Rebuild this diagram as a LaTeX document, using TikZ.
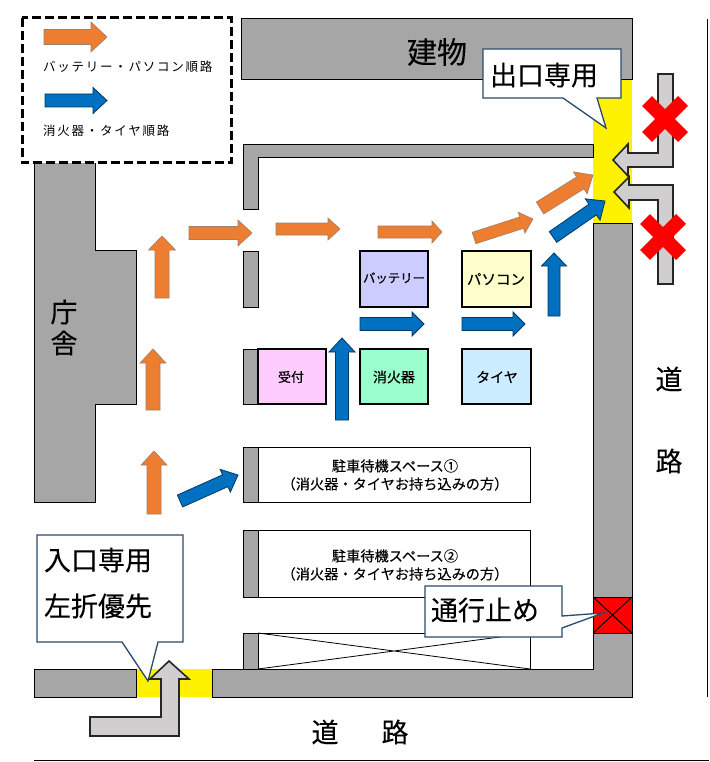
\documentclass[tikz,border=0pt]{standalone}
\usepackage{fontspec}
\setmainfont{Noto Sans CJK JP}
\newfontfamily\jpspaced[LetterSpace=14]{Noto Sans CJK JP}
\newfontfamily\jpmedium[FakeBold=0.4]{Noto Sans CJK JP}
\newfontfamily\jpsemi[FakeBold=0.15]{Noto Sans CJK JP}
\definecolor{wallgray}{HTML}{A6A6A6}
\definecolor{arroworange}{HTML}{ED7D31}
\definecolor{arrowblue}{HTML}{0070C0}
\definecolor{arrowgrey}{HTML}{D0CECE}
\definecolor{calloutblue}{HTML}{2A4A6B}
\definecolor{pinkbox}{HTML}{FFCCFF}
\definecolor{violetbox}{HTML}{CCCCFF}
\definecolor{creambox}{HTML}{FFFFCC}
\definecolor{greenbox}{HTML}{99FFCC}
\definecolor{skybox}{HTML}{CCECFF}
\tikzset{
  x=1pt,y=-1pt,
  wall/.style={fill=wallgray,draw=black,line width=1pt},
  standbox/.style={fill=white,draw=black,line width=1pt},
  itembox/.style={draw=black,line width=1.6pt},
  callout/.style={fill=white,draw=calloutblue,line width=1.3pt,line join=miter},
  orangearrow/.style={fill=arroworange,draw=gray!70!arroworange,line width=.6pt},
  bluearrow/.style={fill=arrowblue,draw=black!50!arrowblue,line width=.8pt},
  greyarrow/.style={fill=arrowgrey,draw=black!85,line width=1.6pt,line join=miter},
  redcross/.style={draw=red,line width=14pt},
  bigtext/.style={font=\fontsize{27}{27}\jpsemi,inner sep=0pt},
  itemtext/.style={font=\fontsize{13}{13}\jpmedium,inner sep=0pt},
  standtext/.style={font=\fontsize{14.2}{18}\jpsemi,inner sep=0pt,align=center},
  legendtext/.style={font=\fontsize{12.5}{12.5}\jpspaced,inner sep=0pt,anchor=west},
}
% \flowarrow{style}{x1}{y1}{x2}{y2}{shaft half}{head half}{head length}
\newcommand{\flowarrow}[8]{%
  \pgfmathsetmacro{\fdx}{#4-#2}\pgfmathsetmacro{\fdy}{#5-#3}%
  \pgfmathsetmacro{\flen}{sqrt(\fdx*\fdx+\fdy*\fdy)}%
  \pgfmathsetmacro{\fux}{\fdx/\flen}\pgfmathsetmacro{\fuy}{\fdy/\flen}%
  \pgfmathsetmacro{\fbx}{#4-#8*\fux}\pgfmathsetmacro{\fby}{#5-#8*\fuy}%
  \draw[#1] ({#2-#6*\fuy},{#3+#6*\fux}) -- ({\fbx-#6*\fuy},{\fby+#6*\fux}) --
    ({\fbx-#7*\fuy},{\fby+#7*\fux}) -- (#4,#5) -- ({\fbx+#7*\fuy},{\fby-#7*\fux}) --
    ({\fbx+#6*\fuy},{\fby-#6*\fux}) -- ({#2+#6*\fuy},{#3-#6*\fux}) -- cycle;%
}
\begin{document}
\begin{tikzpicture}
\useasboundingbox (0,0) rectangle (709,762);
\fill[white] (0,0) rectangle (709,762);
% yellow gates
\fill[yellow] (593,80) rectangle (632,223);
\fill[yellow] (136,669) rectangle (212,697);
% building
\draw[wall] (241,19) -- (632,19) -- (632,80) -- (241,80) -- cycle;
% government office
\draw[wall] (34,163) -- (95,163) -- (95,250) -- (136,250) -- (136,404) -- (95,404) -- (95,502) -- (34,502) -- cycle;
% inner walls
\draw[wall] (243,209) -- (243,145) -- (593,145) -- (593,158) -- (258,158) -- (258,209) -- cycle;
\draw[wall] (243,251) rectangle (258,307);
% item boxes
\draw[wall] (243,349) rectangle (258,404);
\draw[itembox,line width=1.2pt,fill=pinkbox] (258,349) rectangle (326,404);
\draw[itembox,fill=violetbox] (360,251) rectangle (428,307);
\draw[itembox,fill=creambox] (462,251) rectangle (531,307);
\draw[itembox,fill=greenbox] (360,349) rectangle (428,404);
\draw[itembox,fill=skybox] (462,349) rectangle (531,404);
\node[itemtext,font=\fontsize{12.4}{13}\jpmedium] (battery) at (394,278) {バッテリー};
\node[itemtext,font=\fontsize{14.5}{15}\jpmedium] (pc) at (496,279) {パソコン};
\node[itemtext] (reception) at (291,377) {受付};
\node[itemtext,font=\fontsize{14}{14}\jpmedium] (ext) at (394,377) {消火器};
\node[itemtext,font=\fontsize{14}{14}\jpmedium] (tire) at (497,377) {タイヤ};
% standby spaces
\draw[standbox] (243,447) rectangle (530,502);
\draw[wall] (243,447) rectangle (258,502);
\node[standtext] (s1) at (395,475) {駐車待機スペース①\\（消火器・タイヤお持ち込みの方）};
\draw[standbox] (243,530) rectangle (530,597);
\draw[wall] (243,530) rectangle (258,597);
\node[standtext] (s2) at (395,565) {駐車待機スペース②\\（消火器・タイヤお持ち込みの方）};
\draw[standbox] (243,633) rectangle (530,669);
\draw[black,line width=.8pt] (258,633) -- (530,669) (258,669) -- (530,633);
\draw[wall] (243,633) rectangle (258,669);
% road walls
\draw[wall] (34,669) rectangle (136,697);
\draw[wall] (212,669) -- (593,669) -- (593,223) -- (632,223) -- (632,697) -- (212,697) -- cycle;
% closed point
\draw[black,line width=1pt,fill=red] (593,597) rectangle (632,633);
\draw[black,line width=1pt] (593,597) -- (632,633) (593,633) -- (632,597);
% road edges
\draw[black,line width=1pt] (707,19) -- (707,697);
\draw[black,line width=1pt] (34,760) -- (709,760);
% labels
\node[bigtext,font=\fontsize{30}{30}\jpsemi] (bldg) at (437,52) {建物};
\node[bigtext] (c1) at (64,312) {庁};
\node[bigtext] (c2) at (64,343) {舎};
\node[bigtext] (r1) at (325,732) {道};
\node[bigtext] (r2) at (395,732) {路};
\node[bigtext] (r3) at (669,379) {道};
\node[bigtext] (r4) at (669,461) {路};
% legend
\draw[black,line width=3pt,dash pattern=on 9pt off 4pt,fill=white] (22,18) rectangle (231,163);
\flowarrow{orangearrow}{44}{37}{107}{37}{7.5}{15}{16}
\node[legendtext] (l1) at (43,67) {バッテリー・パソコン順路};
\flowarrow{bluearrow}{45}{100.5}{107}{100.5}{6.5}{13}{14}
\node[legendtext] (l2) at (43,131) {消火器・タイヤ順路};
% orange route
\flowarrow{orangearrow}{162}{298}{162}{236}{7}{13.5}{14}
\flowarrow{orangearrow}{153}{410}{153}{349}{7}{13}{14}
\flowarrow{orangearrow}{154}{514}{154}{451}{7}{13}{14}
\flowarrow{orangearrow}{189}{233}{252}{233}{6.5}{13}{14}
\flowarrow{orangearrow}{276}{229}{340}{229}{6}{11}{12}
\flowarrow{orangearrow}{378}{232}{442}{232}{6}{11}{10}
\flowarrow{orangearrow}{474}{238}{533}{219}{6}{11}{12}
\flowarrow{orangearrow}{540}{208}{593}{175}{7}{13}{15}
% blue route
\flowarrow{bluearrow}{342}{420}{342}{338}{6.5}{13}{14}
\flowarrow{bluearrow}{360}{324}{424}{324}{6.5}{12}{12}
\flowarrow{bluearrow}{462}{324}{525}{324}{6.5}{12}{12}
\flowarrow{bluearrow}{554}{316}{554}{253}{6}{12.5}{13}
\flowarrow{bluearrow}{553}{237}{605}{201}{6.5}{13}{15}
\flowarrow{bluearrow}{180}{501}{238}{475}{6.5}{12.5}{14}
% callouts
\draw[callout] (37,535) -- (183,535) -- (183,642) -- (158,642) -- (148,681) -- (122,642) -- (37,642) -- cycle;
\node[bigtext] (in1) at (98,560) {入口専用};
\node[bigtext] (in2) at (98,606) {左折優先};
\draw[callout] (483,49) -- (621,49) -- (621,98) -- (597,98) -- (606,128) -- (563,98) -- (483,98) -- cycle;
\node[bigtext] (out) at (544,75) {出口専用};
\draw[callout] (425,586) -- (562,586) -- (562,616) -- (603,613) -- (562,628) -- (562,637) -- (425,637) -- cycle;
\node[bigtext] (stop) at (485,610) {通行止め};
% grey entry and exit arrows
\draw[greyarrow] (90,717) -- (161,717) -- (161,679) -- (150,679) -- (169,661) -- (189,679) -- (179,679) -- (179,736) -- (90,736) -- cycle;
\draw[greyarrow] (658,74) -- (673,74) -- (673,167) -- (628,167) -- (628,176) -- (613,160) -- (628,144) -- (628,153) -- (658,153) -- cycle;
\draw[greyarrow] (658,284) -- (673,284) -- (673,185) -- (629,185) -- (629,177) -- (614,192) -- (629,208) -- (629,200) -- (658,200) -- cycle;
\draw[redcross] (647,101) -- (683,137) (647,137) -- (683,101);
\draw[redcross] (645,219) -- (681,255) (645,255) -- (681,219);
\end{tikzpicture}
\end{document}
